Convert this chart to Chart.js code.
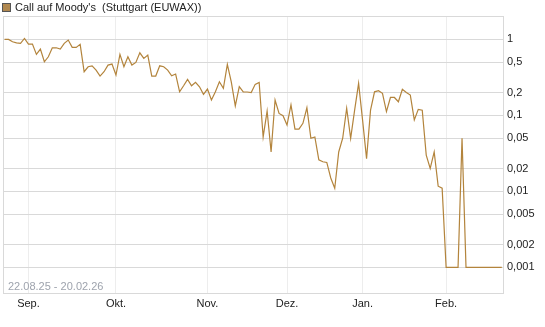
<!DOCTYPE html>
<html>
<head>
<meta charset="utf-8">
<script src="https://cdn.jsdelivr.net/npm/chart.js@4.4.1/dist/chart.umd.min.js"></script>
<style>
  body { margin: 0; background: #fff; font-family: "Liberation Sans", Arial, sans-serif; }
  #wrap { position: relative; width: 545px; height: 327px; }
  .legend { position: absolute; left: 2px; top: 1px; font-size: 11px; color: #222; white-space: pre; line-height: 13px; }
  .legend i { display: inline-block; width: 7px; height: 7px; background: #b08850; border: 1px solid #555; margin-right: 4px; vertical-align: -1px; }
  .range { position: absolute; left: 8px; top: 280px; font-size: 11px; color: #9ea3ad; line-height: 13px; }
</style>
</head>
<body>
<div id="wrap">
  <canvas id="priceChart"></canvas>
  <div class="legend"><i></i>Call auf Moody's  (Stuttgart (EUWAX))</div>
  <div class="range">22.08.25 - 20.02.26</div>
</div>
<script>
// x = trading day index, 22.08.25 = 0 ... 20.02.26 = 125
const monthLabels = ["Sep.", "Okt.", "Nov.", "Dez.", "Jan.", "Feb."];
const monthStart = [6, 28, 51, 71, 90, 111];
const yTicks = [1, 0.5, 0.2, 0.1, 0.05, 0.02, 0.01, 0.005, 0.002, 0.001];

const prices = [
  1.0, 1.0, 0.93, 0.9, 0.886, 1.03, 0.867, 0.867, 0.635, 0.745,
  0.507, 0.59, 0.775, 0.775, 0.745, 0.886, 0.979, 0.785, 0.785, 0.86,
  0.375, 0.436, 0.449, 0.394, 0.329, 0.375, 0.459, 0.473, 0.339, 0.635,
  0.436, 0.59, 0.459, 0.498, 0.666, 0.562, 0.622, 0.329, 0.329, 0.449,
  0.436, 0.394, 0.332, 0.35, 0.204, 0.245, 0.298, 0.245, 0.272, 0.238,
  0.189, 0.222, 0.159, 0.204, 0.277, 0.227, 0.469, 0.274, 0.133, 0.238,
  0.204, 0.203, 0.2, 0.256, 0.272, 0.052, 0.114, 0.033, 0.159, 0.106,
  0.099, 0.0745, 0.137, 0.066, 0.066, 0.0785, 0.126, 0.05, 0.052, 0.026,
  0.0245, 0.024, 0.015, 0.011, 0.033, 0.05, 0.124, 0.05, 0.117, 0.264,
  0.0867, 0.027, 0.117, 0.204, 0.211, 0.195, 0.112, 0.172, 0.172, 0.151,
  0.22, 0.2, 0.185, 0.087, 0.12, 0.117, 0.03, 0.02, 0.033, 0.0117,
  0.011, 0.001, 0.001, 0.001, 0.001, 0.05, 0.001, 0.001, 0.001, 0.001,
  0.001, 0.001, 0.001, 0.001, 0.001, 0.001
];

// plot frame (left/top lines)
const frame = {
  id: "frame",
  beforeDatasetsDraw(chart) {
    const { ctx, chartArea: a } = chart;
    ctx.save();
    ctx.strokeStyle = "#d9d9d9";
    ctx.lineWidth = 1;
    ctx.strokeRect(Math.round(a.left) + 0.5, Math.round(a.top) + 0.5,
      Math.round(a.right - a.left), Math.round(a.bottom - a.top));
    ctx.restore();
  }
};

const font = { family: "'Liberation Sans', Arial, sans-serif", size: 11 };

new Chart(document.getElementById("priceChart"), {
  type: "line",
  data: {
    datasets: [{
      label: "Call auf Moody's",
      data: prices.map((v, i) => ({ x: i, y: v })),
      borderColor: "#b3843c",
      borderWidth: 1.2,
      pointRadius: 0,
      tension: 0,
      fill: false
    }]
  },
  options: {
    responsive: true,
    maintainAspectRatio: false,
    animation: false,
    layout: { padding: { top: 16, left: 3, right: 0, bottom: 0 } },
    plugins: { legend: { display: false }, tooltip: { enabled: false } },
    scales: {
      x: {
        type: "linear",
        min: -0.4,
        max: 125.3,
        afterFit: (s) => { s.height = 34; },
        afterBuildTicks: (s) => { s.ticks = monthStart.map(v => ({ value: v })); },
        grid: { color: "#ededed", drawTicks: false },
        border: { color: "#d9d9d9" },
        ticks: {
          autoSkip: false,
          maxRotation: 0,
          padding: 4,
          color: "#222",
          font: font,
          callback: (v) => monthLabels[monthStart.indexOf(v)]
        }
      },
      y: {
        type: "logarithmic",
        position: "right",
        min: 0.00046,
        max: 2.03,
        afterFit: (s) => { s.width = 42; },
        afterBuildTicks: (s) => { s.ticks = yTicks.map(v => ({ value: v })); },
        grid: { color: "#d9d9d9", drawTicks: false },
        border: { color: "#d9d9d9" },
        ticks: {
          padding: 4,
          color: "#222",
          font: font,
          callback: (v) => String(v).replace(".", ",")
        }
      }
    }
  },
  plugins: [frame]
});
</script>
</body>
</html>
